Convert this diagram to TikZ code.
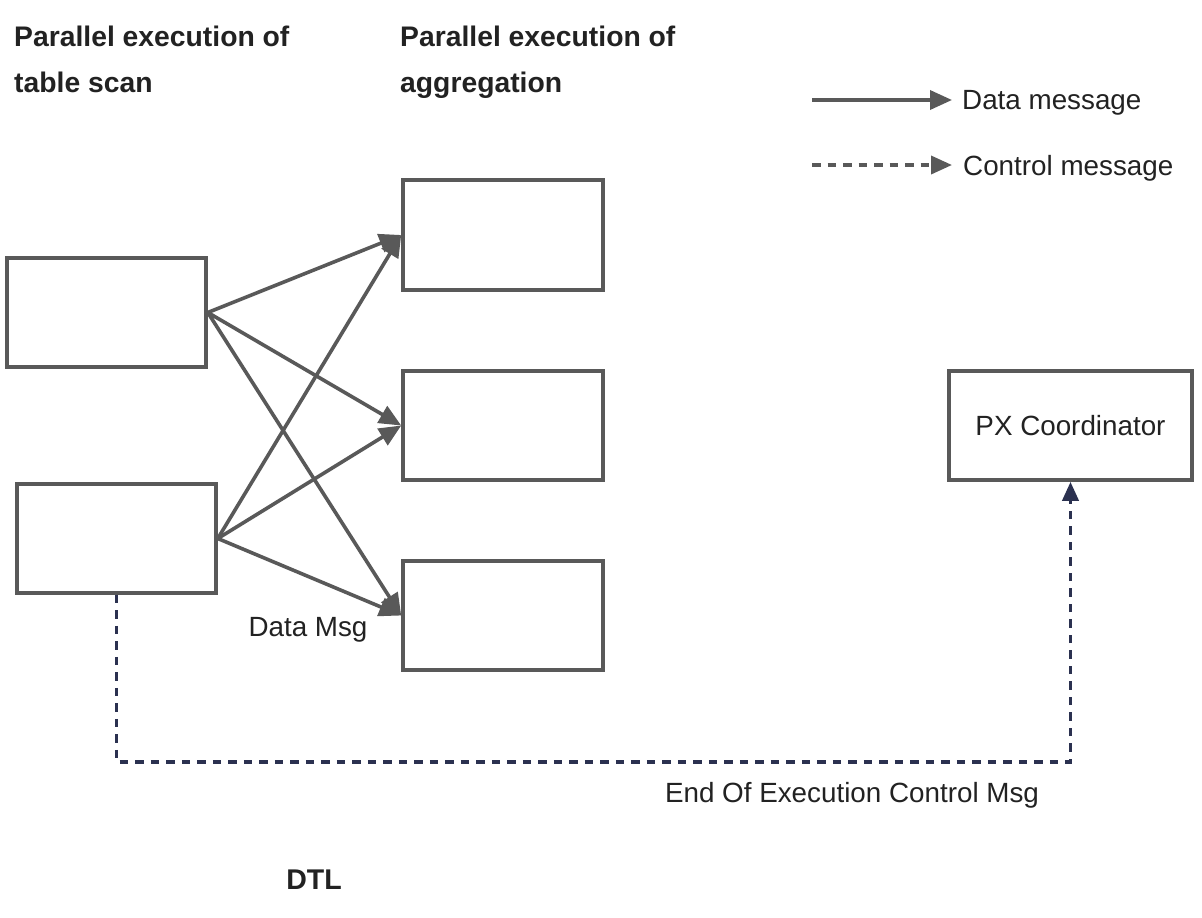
\documentclass[tikz,border=0pt]{standalone}
\usepackage{fontspec}
\setmainfont{Liberation Sans}
\usetikzlibrary{arrows.meta}
\definecolor{lg}{HTML}{595959}
\definecolor{nv}{HTML}{2B3150}
\definecolor{tx}{HTML}{222222}
\begin{document}
\begin{tikzpicture}[x=1pt,y=-1pt,
  every node/.style={font=\fontsize{27.8}{33}\selectfont, text=tx},
  box/.style={draw=lg, line width=3.6pt, inner sep=0pt},
  ttl/.style={font=\fontsize{28.3}{45.5}\selectfont\bfseries, align=left, anchor=north west, inner sep=0pt},
  data/.style={draw=lg, line width=3.6pt, -{Triangle[length=22pt,width=19pt]}},
  ctrl/.style={draw=nv, line width=3.8pt, dash pattern=on 8.5pt off 7pt, -{Triangle[length=19pt,width=16pt]}},
  lctrl/.style={draw=lg, line width=3.6pt, dash pattern=on 8.5pt off 7pt, -{Triangle[length=21pt,width=18pt]}},
  lbl/.style={inner sep=0pt}]
\useasboundingbox (0,0) rectangle (1202,918);
\fill[white] (0,0) rectangle (1202,918);

% titles
\node[ttl] (t1) at (14,26) {Parallel execution of\\table scan};
\node[ttl] (t2) at (400,26) {Parallel execution of\\aggregation};

% legend
\node[lbl, anchor=west] (ldm) at (962,103) {Data message};
\node[lbl, anchor=west] (lcm) at (963,168) {Control message};
\coordinate (l1) at (812,100);
\coordinate (l2) at (812,165);
\draw[data, shorten >=10pt] (l1) -- (ldm.west |- l1);
\draw[lctrl, shorten >=11pt] (l2) -- (lcm.west |- l2);

% boxes
\node[box, minimum width=199pt, minimum height=109pt] (s1) at (106.5,312.5) {};
\node[box, minimum width=199pt, minimum height=109pt] (s2) at (116.5,538.5) {};
\node[box, minimum width=200pt, minimum height=110pt] (a1) at (503,235) {};
\node[box, minimum width=200pt, minimum height=109pt] (a2) at (503,425.5) {};
\node[box, minimum width=200pt, minimum height=109pt] (a3) at (503,615.5) {};
\node[box, minimum width=243pt, minimum height=109pt] (px) at (1070.5,425.5) {PX Coordinator};

% data arrows
\draw[data] (s1.east) -- (a1.west);
\draw[data] (s1.east) -- (a2.west);
\draw[data] (s1.east) -- (a3.west);
\draw[data] (s2.east) -- (a1.west);
\draw[data] (s2.east) -- (a2.west);
\draw[data] (s2.east) -- (a3.west);

% control path
\coordinate (cb) at (600,762);
\draw[ctrl] (s2.south) -- (s2.south |- cb) -- (px.south |- cb) -- (px.south);

% labels
\node[lbl] (dmsg) at (308,630) {Data Msg};
\node[lbl] (eoe) at (852,795) {End Of Execution Control Msg};
\node[lbl, font=\fontsize{28.5}{33}\selectfont\bfseries] (dtl) at (314,880) {DTL};
\end{tikzpicture}
\end{document}
